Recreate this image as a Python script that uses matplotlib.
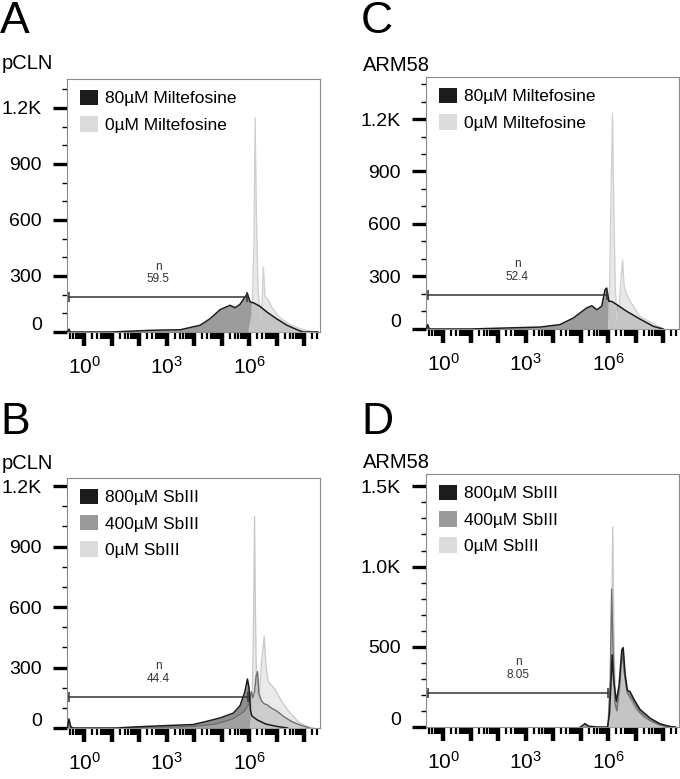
import numpy as np
import matplotlib
matplotlib.use("Agg")
import matplotlib.pyplot as plt
from matplotlib.patches import Patch
from matplotlib.transforms import ScaledTranslation

plt.rcParams['font.family'] = ['Liberation Sans', 'DejaVu Sans']
plt.rcParams['mathtext.fontset'] = 'custom'
plt.rcParams['mathtext.rm'] = 'Liberation Sans'
plt.rcParams['mathtext.it'] = 'Liberation Sans:italic'

# x values are log10 of fluorescence (decades), y values are counts

# A: pCLN, miltefosine
a_mil80_x = [-0.6, -0.55, -0.5, 1.0, 2.4, 3.5, 4.22, 4.58, 4.95, 5.31, 5.49, 5.67, 5.85, 5.94, 6.04, 6.18, 6.4, 6.65, 7.0, 7.38, 7.75, 7.97, 8.5]
a_mil80_y = [0, 15, 0, 0, 9, 12, 36, 71, 120, 143, 130, 148, 187, 205, 161, 155, 137, 107, 71, 36, 12, 0, 0]
a_mil0_x = [6.0, 6.11, 6.18, 6.22, 6.27, 6.33, 6.40, 6.44, 6.47, 6.52, 6.58, 6.69, 6.84, 7.13, 7.49, 7.85, 8.22, 8.4]
a_mil0_y = [0, 90, 500, 1150, 600, 220, 110, 64, 150, 348, 190, 175, 130, 75, 40, 18, 5, 0]

# C: ARM58, miltefosine
c_mil80_x = [-0.6, -0.56, -0.5, 1.0, 2.32, 3.53, 4.25, 4.74, 5.22, 5.41, 5.59, 5.77, 5.89, 5.95, 6.03, 6.13, 6.32, 6.68, 7.16, 7.65, 8.0]
c_mil80_y = [0, 25, 0, 0, 6, 11, 25, 63, 120, 133, 110, 130, 225, 234, 158, 158, 139, 101, 57, 15, 0]
c_mil0_x = [6.02, 6.06, 6.11, 6.16, 6.21, 6.26, 6.32, 6.41, 6.5, 6.53, 6.58, 6.65, 6.8, 7.16, 7.77, 8.06]
c_mil0_y = [0, 300, 800, 1234, 700, 250, 53, 150, 350, 396, 250, 210, 160, 72, 20, 0]

# B: pCLN, SbIII
b_sb800_x = [-0.6, -0.55, -0.48, -0.4, 1.2, 1.79, 3.0, 3.97, 4.46, 4.95, 5.43, 5.67, 5.85, 5.94, 6.0, 6.05, 6.1, 6.3, 6.6, 7.0, 7.4]
b_sb800_y = [0, 45, 5, 0, 0, 5, 12, 17, 33, 50, 74, 110, 180, 243, 200, 90, 60, 40, 20, 8, 0]
b_sb400_x = [1.5, 3.0, 4.0, 4.8, 5.4, 5.8, 6.0, 6.08, 6.14, 6.2, 6.26, 6.31, 6.36, 6.45, 6.55, 6.65, 6.8, 7.0, 7.25, 7.55, 7.85, 8.2]
b_sb400_y = [0, 4, 8, 20, 45, 80, 120, 180, 150, 180, 260, 280, 170, 135, 120, 116, 100, 85, 58, 32, 15, 0]
b_sb0_x = [6.05, 6.12, 6.17, 6.2, 6.23, 6.27, 6.32, 6.38, 6.45, 6.55, 6.62, 6.7, 6.8, 6.95, 7.13, 7.3, 7.49, 7.7, 7.85, 8.1, 8.35]
b_sb0_y = [0, 150, 600, 1050, 600, 200, 120, 180, 320, 455, 300, 230, 215, 190, 145, 110, 75, 45, 25, 8, 0]

# D: ARM58, SbIII
d_sb800_x = [5.0, 5.16, 5.3, 5.6, 5.98, 6.05, 6.1, 6.15, 6.2, 6.3, 6.4, 6.5, 6.55, 6.62, 6.7, 6.8, 6.95, 7.16, 7.53, 7.89, 8.25, 8.45]
d_sb800_y = [0, 21, 5, 0, 0, 80, 250, 450, 300, 160, 260, 480, 495, 330, 230, 220, 170, 110, 55, 20, 3, 0]
d_sb400_x = [6.0, 6.08, 6.13, 6.18, 6.25, 6.32, 6.42, 6.52, 6.58, 6.7, 6.85, 7.16, 7.53, 7.89, 8.2]
d_sb400_y = [0, 300, 860, 500, 150, 100, 250, 480, 350, 210, 180, 90, 40, 12, 0]
d_sb0_x = [6.05, 6.12, 6.17, 6.22, 6.28, 6.35, 6.45, 6.52, 6.6, 6.75, 7.0, 7.3, 7.7, 8.0]
d_sb0_y = [0, 500, 1247, 500, 120, 80, 250, 400, 250, 170, 100, 50, 15, 0]

mil_labels = ['80µM Miltefosine', '0µM Miltefosine']
sb_labels = ['800µM SbIII', '400µM SbIII', '0µM SbIII']

gate_start = -0.55
gate_end = {'A': 5.93, 'B': 5.96, 'C': 5.96, 'D': 6.0}
gate_level = {'A': 187, 'B': 154, 'C': 194, 'D': 212}
gate_pct = {'A': '59.5', 'B': '44.4', 'C': '52.4', 'D': '8.05'}

ymax = {'A': 1355, 'B': 1240, 'C': 1440, 'D': 1577}
yt_300 = [0, 300, 600, 900, 1200]
yl_300 = ['0', '300', '600', '900', '1.2K']
yt_500 = [0, 500, 1000, 1500]
yl_500 = ['0', '500', '1.0K', '1.5K']

DARK = '#1c1c1c'
MID = '#9a9a9a'
LIGHT = '#dcdcdc'

W, H = 680, 779
fig = plt.figure(figsize=(W / 100, H / 100), dpi=100)


def px_axes(left, top, right, bottom):
    return fig.add_axes([left / W, 1 - bottom / H, (right - left) / W, (bottom - top) / H])


def style_axes(ax, key, yt, yl):
    ax.set_xlim(-0.62, 8.58)
    ax.set_ylim(0, ymax[key])
    for s in ax.spines.values():
        s.set_color('#8a8a8a')
        s.set_linewidth(0.8)
    ax.set_yticks(yt)
    ax.set_yticklabels(yl)
    step = 100
    ax.set_yticks([v for v in range(0, ymax[key], step) if v not in yt], minor=True)
    ax.tick_params(axis='y', which='major', length=10, width=2.4, pad=8, labelsize=14, color='black')
    ax.tick_params(axis='y', which='minor', length=3.5, width=1.0, color='black')
    # x: decades, only 10^0, 10^3, 10^6 labelled
    dec = list(range(0, 9))
    ax.set_xticks(dec)
    ax.set_xticklabels(['$10^{%d}$' % d if d in (0, 3, 6) else '' for d in dec])
    minors = [d + np.log10(m) for d in range(-1, 9) for m in range(2, 10)]
    ax.set_xticks([m for m in minors if -0.62 < m < 8.58], minor=True)
    ax.tick_params(axis='x', which='major', length=10, width=3.2, pad=7, labelsize=15, color='black')
    ax.tick_params(axis='x', which='minor', length=5, width=1.6, color='black')
    # lift the "0" label a bit, as in the original
    lab = ax.get_yticklabels()[0]
    lab.set_transform(lab.get_transform() + ScaledTranslation(0, 6 / 72, fig.dpi_scale_trans))


def gate(ax, key):
    y = gate_level[key]
    x1 = gate_end[key]
    ax.plot([gate_start, x1], [y, y], color='#333333', lw=1.1, zorder=6)
    ax.plot([gate_start, x1], [y, y], ls='none', marker='|', ms=7, mew=1.1, color='#333333', zorder=6)
    xm = (gate_start + x1) / 2
    ax.annotate('n', (xm, y), xytext=(0, 22), textcoords='offset points', ha='center', va='center',
                fontsize=8.5, color='#333333')
    ax.annotate(gate_pct[key], (xm, y), xytext=(0, 13), textcoords='offset points', ha='center',
                va='center', fontsize=8.5, color='#333333')


def legend(ax, labels, colors):
    handles = [Patch(facecolor=c, edgecolor='none', label=l) for l, c in zip(labels, colors)]
    ax.legend(handles=handles, loc='upper left', bbox_to_anchor=(0.025, 0.985), frameon=False,
              fontsize=12.5, handlelength=1.0, handleheight=1.0, handletextpad=0.4,
              labelspacing=0.55, borderaxespad=0)


def two_series(ax, x80, y80, x0, y0):
    ax.fill_between(x80, y80, color='#9c9c9c', lw=0, zorder=2)
    ax.fill_between(x0, y0, color=LIGHT, alpha=0.65, lw=0, zorder=3)
    ax.plot(x0, y0, color='#cfcfcf', lw=0.9, zorder=4)
    ax.plot(x80, y80, color=DARK, lw=1.1, zorder=5)


def three_series(ax, x800, y800, x400, y400, x0, y0):
    ax.fill_between(x800, y800, color='#8e8e8e', lw=0, zorder=2)
    ax.fill_between(x400, y400, color='#a6a6a6', alpha=0.8, lw=0, zorder=2.5)
    ax.fill_between(x0, y0, color=LIGHT, alpha=0.6, lw=0, zorder=3)
    ax.plot(x0, y0, color='#c8c8c8', lw=0.9, zorder=4)
    ax.plot(x400, y400, color='#707070', lw=1.0, zorder=4.5)
    ax.plot(x800, y800, color=DARK, lw=1.1, zorder=5)


axA = px_axes(67, 79, 320, 332)
axC = px_axes(426, 77, 679, 329)
axB = px_axes(67, 478, 320, 728)
axD = px_axes(426, 474, 679, 727)

two_series(axA, a_mil80_x, a_mil80_y, a_mil0_x, a_mil0_y)
two_series(axC, c_mil80_x, c_mil80_y, c_mil0_x, c_mil0_y)
three_series(axB, b_sb800_x, b_sb800_y, b_sb400_x, b_sb400_y, b_sb0_x, b_sb0_y)
three_series(axD, d_sb800_x, d_sb800_y, d_sb400_x, d_sb400_y, d_sb0_x, d_sb0_y)

for ax, key, yt, yl in [(axA, 'A', yt_300, yl_300), (axC, 'C', yt_300, yl_300),
                        (axB, 'B', yt_300, yl_300), (axD, 'D', yt_500, yl_500)]:
    style_axes(ax, key, yt, yl)
    gate(ax, key)

legend(axA, mil_labels, [DARK, LIGHT])
legend(axC, mil_labels, [DARK, LIGHT])
legend(axB, sb_labels, [DARK, MID, LIGHT])
legend(axD, sb_labels, [DARK, MID, LIGHT])

# panel letters and strain names
for letter, name, x, ytop, ybase in [('A', 'pCLN', 0, 1, 69), ('C', 'ARM58', 361, 1, 71),
                                     ('B', 'pCLN', 0, 402, 469), ('D', 'ARM58', 361, 402, 468)]:
    fig.text(x / W, 1 - ytop / H, letter, fontsize=32, ha='left', va='top')
    fig.text((x + 2) / W, 1 - ybase / H, name, fontsize=14.5, ha='left', va='baseline')

fig.savefig('out.png', dpi=100)
